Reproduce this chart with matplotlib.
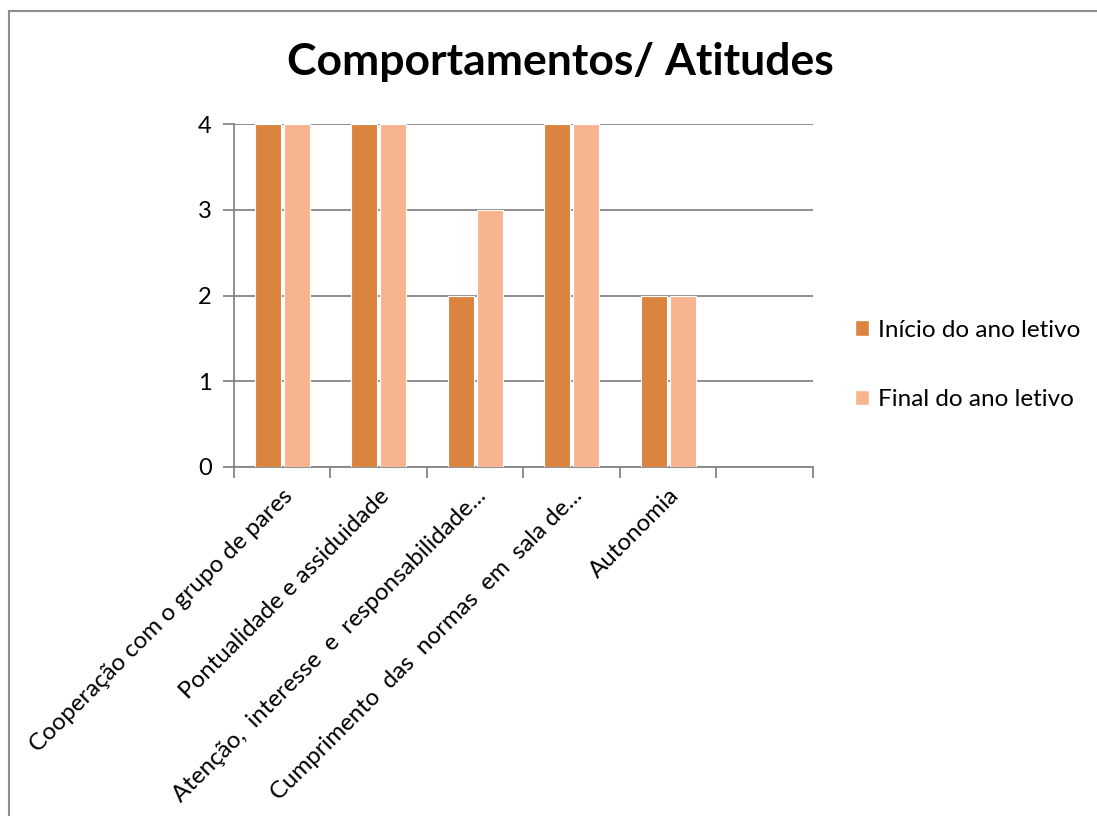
import numpy as np
import matplotlib.pyplot as plt
from matplotlib.lines import Line2D
from matplotlib.patches import Patch

plt.rcParams['font.family'] = ['Lato', 'DejaVu Sans']

# data
categorias = ['Cooperação com o grupo de pares',
              'Pontualidade e assiduidade',
              'Atenção,  interesse  e  responsabilidade...',
              'Cumprimento  das  normas  em  sala de...',
              'Autonomia',
              '']
inicio = [4, 4, 2, 4, 2]
final = [4, 4, 3, 4, 2]
series = ['Início do ano letivo', 'Final do ano letivo']
cores = ['#DA843F', '#F8B48F']

fig = plt.figure(figsize=(10.97, 8.16), dpi=100)
ax = fig.add_axes([0.2133, 0.4277, 0.5278, 0.4203])

x = np.arange(len(inicio)) + 0.5
w = 0.27
ax.bar(x - 0.15, inicio, w, color=cores[0], edgecolor='white', linewidth=0.8, zorder=3)
ax.bar(x + 0.15, final, w, color=cores[1], edgecolor='white', linewidth=0.8, zorder=3)

ax.set_xlim(0, 6)
ax.set_ylim(0, 4)
ax.set_yticks([0, 1, 2, 3, 4])
ax.yaxis.grid(True, color='#868686', linewidth=1.3, zorder=0)
ax.tick_params(axis='y', length=8, width=1.3, color='#868686', labelsize=17, pad=8)

ax.set_xticks(np.arange(7))
ax.set_xticklabels([])
ax.tick_params(axis='x', which='major', length=8, width=1.3, color='#868686')
ax.set_xticks(np.arange(6) + 0.5, minor=True)
ax.set_xticklabels(categorias, minor=True, rotation=45, ha='right', va='top',
                   rotation_mode='anchor', fontsize=17.3)
ax.tick_params(axis='x', which='minor', length=0, pad=13)

for s in ['top', 'right']:
    ax.spines[s].set_visible(False)
for s in ['left', 'bottom']:
    ax.spines[s].set_color('#868686')
    ax.spines[s].set_linewidth(1.3)

fig.text(560 / 1097, 1 - 62 / 816, 'Comportamentos/ Atitudes', ha='center', va='center',
         fontsize=32, fontweight='bold')

handles = [Patch(facecolor=c, edgecolor='white') for c in cores]
fig.legend(handles, series, loc='center left', bbox_to_anchor=(833 / 1097, 1 - 365 / 816),
           frameon=False, fontsize=17.5, handlelength=0.6, handleheight=0.6,
           handletextpad=0.35, labelspacing=2.0)

# moldura (topo e esquerda)
fig.add_artist(Line2D([9 / 1097, 9 / 1097], [0, 1 - 11 / 816], color='#8c8c8c', linewidth=1.5))
fig.add_artist(Line2D([9 / 1097, 1], [1 - 11 / 816, 1 - 11 / 816], color='#8c8c8c', linewidth=1.5))

fig.savefig('out.png', dpi=100)
